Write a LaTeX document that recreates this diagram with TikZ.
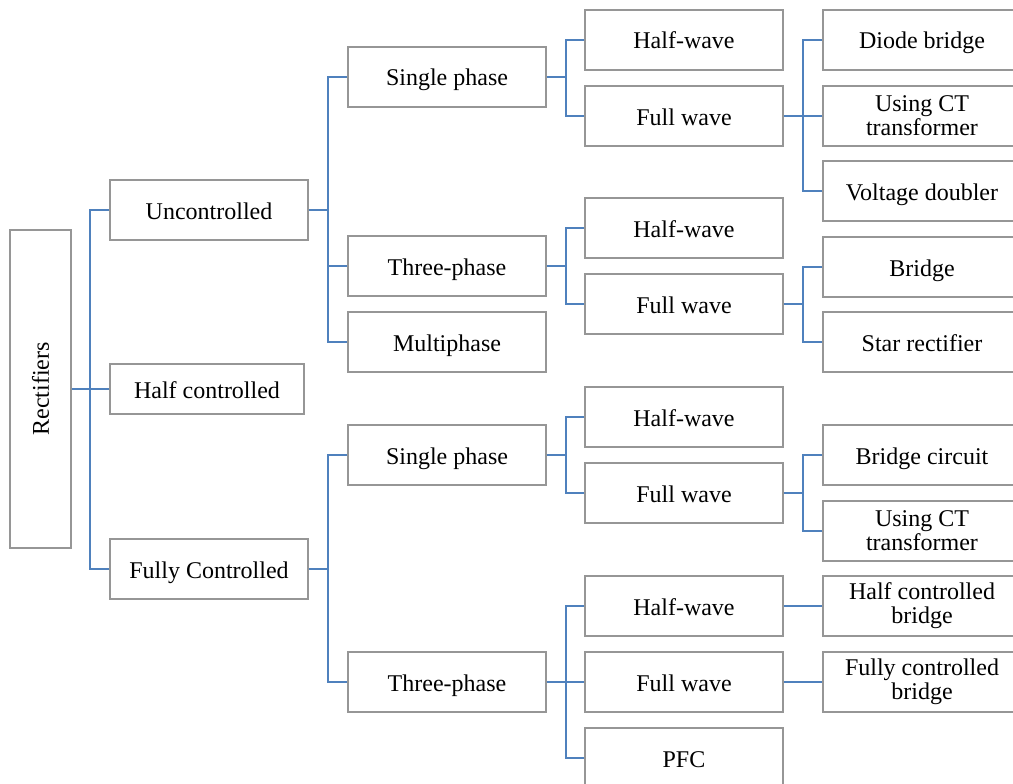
\documentclass[tikz,border=0pt]{standalone}
\usepackage{fontspec}
\usepackage{graphicx}
\setmainfont{Liberation Serif}
\definecolor{conncol}{RGB}{79,129,189}
\definecolor{boxcol}{RGB}{150,150,150}
\tikzset{
  bx/.style={draw=boxcol, line width=1.4pt, fill=white, inner sep=0pt,
    minimum width=198pt, minimum height=60pt, align=center,
    font=\fontsize{24}{24}\selectfont, text=black},
  bxs/.style={bx, text height=19pt, text depth=1pt},
  conn/.style={draw=conncol, line width=2pt}
}
\begin{document}
\begin{tikzpicture}[x=1pt,y=-1pt]
\useasboundingbox (0,0) rectangle (1013,784);
% level 0
\node[bx, minimum width=61pt, minimum height=318pt] (rect) at (40.5,389) {\rotatebox{90}{Rectifiers}};
% level 1
\node[bxs] (unc) at (209,210) {Uncontrolled};
\node[bxs, minimum width=194pt, minimum height=50pt] (half) at (207,389) {Half controlled};
\node[bxs] (full) at (209,569) {Fully Controlled};
% level 2
\node[bxs] (usp) at (447,77) {Single phase};
\node[bxs] (utp) at (447,266) {Three-phase};
\node[bxs] (ump) at (447,342) {Multiphase};
\node[bxs] (fsp) at (447,455) {Single phase};
\node[bxs] (ftp) at (447,682) {Three-phase};
% level 3
\node[bxs] (ushw) at (684,40) {Half-wave};
\node[bxs] (usfw) at (684,116) {Full wave};
\node[bxs] (uthw) at (684,228) {Half-wave};
\node[bxs] (utfw) at (684,304) {Full wave};
\node[bxs] (fshw) at (684,417) {Half-wave};
\node[bxs] (fsfw) at (684,493) {Full wave};
\node[bxs] (fthw) at (684,606) {Half-wave};
\node[bxs] (ftfw) at (684,682) {Full wave};
\node[bxs] (pfc) at (684,758) {PFC};
% level 4
\node[bxs] (db) at (922,40) {Diode bridge};
\node[bx] (ct1) at (922,116) {Using CT\\transformer};
\node[bxs] (vd) at (922,191) {Voltage doubler};
\node[bxs] (br) at (922,267) {Bridge};
\node[bxs] (sr) at (922,342) {Star rectifier};
\node[bxs] (bc) at (922,455) {Bridge circuit};
\node[bx] (ct2) at (922,531) {Using CT\\transformer};
\node[bx] (hcb) at (922,606) {Half controlled\\bridge};
\node[bx] (fcb) at (922,682) {Fully controlled\\bridge};
% buses
\coordinate (b0) at (90,389);
\coordinate (b1) at (328,210);
\coordinate (b2) at (328,569);
\coordinate (b3) at (566,77);
\coordinate (b4) at (566,266);
\coordinate (b5) at (566,455);
\coordinate (b6) at (566,682);
\coordinate (b7) at (803,116);
\coordinate (b8) at (803,304);
\coordinate (b9) at (803,493);
% connectors
\draw[conn] (rect.east) -- (b0);
\draw[conn] (unc.west) -| (b0);
\draw[conn] (half.west) -- (b0);
\draw[conn] (full.west) -| (b0);
\draw[conn] (unc.east) -- (b1);
\draw[conn] (usp.west) -| (b1);
\draw[conn] (utp.west) -| (b1);
\draw[conn] (ump.west) -| (b1);
\draw[conn] (full.east) -- (b2);
\draw[conn] (fsp.west) -| (b2);
\draw[conn] (ftp.west) -| (b2);
\draw[conn] (usp.east) -- (b3);
\draw[conn] (ushw.west) -| (b3);
\draw[conn] (usfw.west) -| (b3);
\draw[conn] (utp.east) -- (b4);
\draw[conn] (uthw.west) -| (b4);
\draw[conn] (utfw.west) -| (b4);
\draw[conn] (fsp.east) -- (b5);
\draw[conn] (fshw.west) -| (b5);
\draw[conn] (fsfw.west) -| (b5);
\draw[conn] (ftp.east) -- (b6);
\draw[conn] (fthw.west) -| (b6);
\draw[conn] (ftfw.west) -- (b6);
\draw[conn] (pfc.west) -| (b6);
\draw[conn] (usfw.east) -- (b7);
\draw[conn] (db.west) -| (b7);
\draw[conn] (ct1.west) -- (b7);
\draw[conn] (vd.west) -| (b7);
\draw[conn] (utfw.east) -- (b8);
\draw[conn] (br.west) -| (b8);
\draw[conn] (sr.west) -| (b8);
\draw[conn] (fsfw.east) -- (b9);
\draw[conn] (bc.west) -| (b9);
\draw[conn] (ct2.west) -| (b9);
\draw[conn] (fthw.east) -- (hcb.west);
\draw[conn] (ftfw.east) -- (fcb.west);
\end{tikzpicture}
\end{document}
